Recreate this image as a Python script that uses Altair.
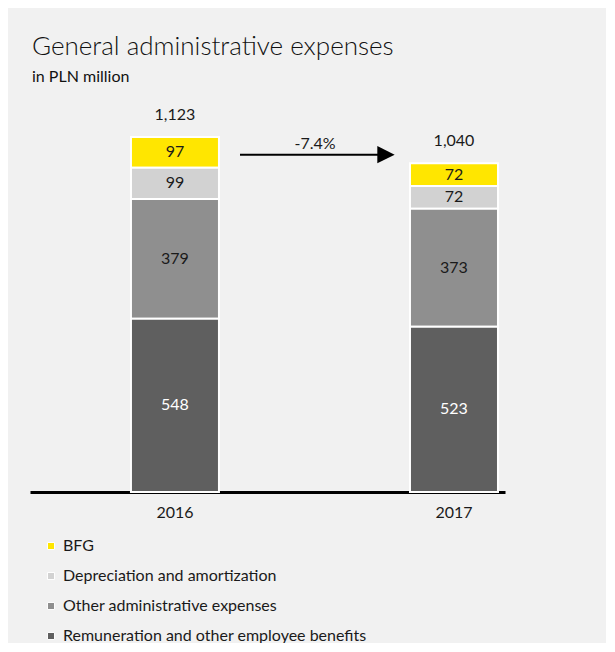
import altair as alt
import pandas as pd

years = ["2016", "2017"]
categories = [
    "BFG",
    "Depreciation and amortization",
    "Other administrative expenses",
    "Remuneration and other employee benefits",
]
values_2016 = [97, 99, 379, 548]
values_2017 = [72, 72, 373, 523]
stack_order = [3, 2, 1, 0]
colors = ["#FFE600", "#D2D2D2", "#8F8F8F", "#5F5F5F"]
label_colors = ["#1a1a1a", "#1a1a1a", "#1a1a1a", "#ffffff"]
change_label = "-7.4%"

rows = []
for yr, vals in zip(years, [values_2016, values_2017]):
    for c, v, o, lc in zip(categories, vals, stack_order, label_colors):
        rows.append({"year": yr, "cat": c, "value": v, "ord": o, "lc": lc})
df = pd.DataFrame(rows)
totals = pd.DataFrame({"year": years, "total": [sum(values_2016), sum(values_2017)]})

FONT = "Lato"

xscale = alt.Scale(domain=years, paddingInner=0.6846, paddingOuter=0.1935, align=0.935)
yscale = alt.Scale(domain=[0, 1240], nice=False)

base = alt.Chart(df).transform_stack(
    stack="value", groupby=["year"], as_=["y0", "y1"], sort=[alt.SortField("ord", order="ascending")]
).transform_calculate(mid="(datum.y0 + datum.y1) / 2")

bars = base.mark_bar(stroke="white", strokeWidth=2).encode(
    x=alt.X("year:N", scale=xscale, axis=alt.Axis(
        title=None, domainColor="black", domainWidth=3, ticks=False,
        labelAngle=0, labelFontSize=16, labelFont=FONT, labelColor="#1a1a1a", labelPadding=12)),
    y=alt.Y("y0:Q", scale=yscale, axis=None),
    y2="y1:Q",
    color=alt.Color("cat:N", scale=alt.Scale(domain=categories, range=colors), legend=alt.Legend(
        title=None, orient="none", legendX=13, legendY=438, symbolType="square", symbolSize=50,
        symbolStrokeColor="white", symbolStrokeWidth=1, labelFontSize=16, labelFont=FONT,
        labelColor="#1a1a1a", rowPadding=14, labelOffset=4, padding=0, labelLimit=0)),
)

seg_labels = base.mark_text(fontSize=16, font=FONT, baseline="middle").encode(
    x=alt.X("year:N", scale=xscale),
    y=alt.Y("mid:Q", scale=yscale),
    text="value:Q",
    color=alt.Color("lc:N", scale=None),
)

tot = alt.Chart(totals).mark_text(fontSize=16, font=FONT, baseline="middle", dy=-22, color="#1a1a1a").encode(
    x=alt.X("year:N", scale=xscale),
    y=alt.Y("total:Q", scale=yscale),
    text=alt.Text("total:Q", format=","),
)

ann = pd.DataFrame({"lbl": [change_label], "yv": [1067], "yt": [1100]})
arrow_line = alt.Chart(ann).mark_rule(color="black", strokeWidth=2).encode(
    x=alt.value(210), x2=alt.value(350), y=alt.Y("yv:Q", scale=yscale))
arrow_head = alt.Chart(ann).mark_point(
    shape="M-1,-1L1,0L-1,1Z", filled=True, color="black", size=300, opacity=1).encode(
    x=alt.value(356), y=alt.Y("yv:Q", scale=yscale))
arrow_text = alt.Chart(ann).mark_text(fontSize=16, font=FONT, color="#1a1a1a", baseline="middle").encode(
    x=alt.value(285), y=alt.Y("yt:Q", scale=yscale), text="lbl:N")

chart = alt.layer(bars, seg_labels, tot, arrow_line, arrow_head, arrow_text).properties(
    width=475, height=392,
    autosize=alt.AutoSizeParams(type="none"),
    padding={"left": 22, "top": 92, "right": 101, "bottom": 151},
    background="#F1F1F1",
    title=alt.TitleParams(
        "General administrative expenses", subtitle="in PLN million", anchor="start",
        font=FONT, fontSize=26, fontWeight=300, color="#111111", subtitleFont=FONT,
        subtitleFontSize=16, subtitleFontWeight="normal", subtitleColor="#111111",
        offset=15, subtitlePadding=9, dx=2),
).configure_view(stroke=None)

chart.save("out.html", embed_options={"renderer": "svg", "actions": False})
